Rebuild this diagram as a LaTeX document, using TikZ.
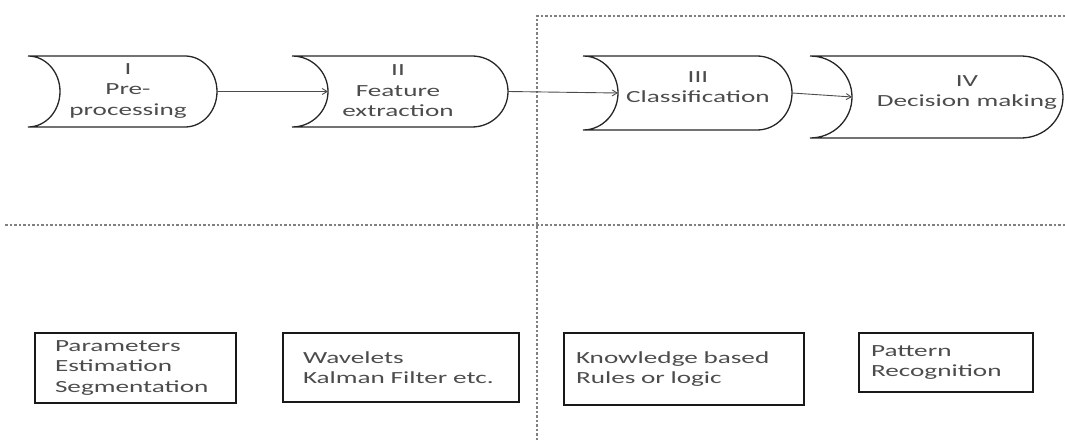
\documentclass[tikz,border=0pt]{standalone}
\usepackage{fontspec}
\newfontfamily\diagfont[FakeStretch=1.6]{Carlito}
\usetikzlibrary{arrows.meta,calc}

\begin{document}
\begin{tikzpicture}[x=1pt,y=1pt,
  font=\diagfont\fontsize{17}{20.5}\selectfont,
  stageline/.style={draw=black!85,line width=1.3pt},
  stagetext/.style={align=center,text=black!70,inner sep=0pt},
  box/.style={draw=black!90,line width=1.8pt,align=left,text=black!70,inner ysep=2pt},
  arr/.style={-{Straight Barb[length=5pt,width=6pt]},draw=black!70,line width=.9pt},
  sep/.style={draw=black!50,line width=1.2pt,dash pattern=on 2.5pt off 2pt}]
\useasboundingbox (0,0) rectangle (1065,440);

% Phase dividers: pre-processing and features left, decisions right.
\draw[sep] (5,215) -- (1065,215);
\draw[sep] (537,0) -- (537,424) -- (1065,424);

% Stages drawn as stored-data outlines (concave left, round right).
\foreach \nm/\xl/\xr/\yt/\yb/\dep/\tx/\ty/\txt in {
  s1/28/217/384/313/32/128/349/{I\\Pre-\\processing},
  s2/292/508/384/313/36/398/349/{II\\Feature\\extraction},
  s3/583/792/384/310/35/698/353/{III\\Classification},
  s4/810/1063/384/302/42/967/347.5/{IV\\Decision making}}{
  \pgfmathsetmacro{\ymid}{(\yt+\yb)/2}
  \pgfmathsetmacro{\yrad}{(\yt-\yb)/2}
  \pgfmathsetmacro{\xin}{\xl+\dep}
  \pgfmathsetmacro{\xcap}{\xr-\dep}
  \draw[stageline] (\xl,\yt) -- (\xcap,\yt)
    arc[start angle=90,end angle=-90,x radius=\dep,y radius=\yrad]
    -- (\xl,\yb)
    arc[start angle=-90,end angle=90,x radius=\dep,y radius=\yrad];
  \coordinate (\nm in) at (\xin,\ymid);
  \coordinate (\nm out) at (\xr,\ymid);
  \node[stagetext] (\nm) at (\tx,\ty) {\txt};
}
\draw[arr] (s1out) -- (s2in);
\draw[arr] (s2out) -- (s3in);
\draw[arr] (s3out) -- (s4in);

% Methods used in each stage.
\foreach \nm/\xl/\xr/\yt/\yb/\pad/\txt in {
  m1/35/236/107/37/20/{Parameters\\Estimation\\Segmentation},
  m2/283/519/107/38/20/{Wavelets\\Kalman Filter etc.},
  m3/564/804/107/35/12/{Knowledge based\\Rules or logic},
  m4/859/1033/107/48/12/{Pattern\\Recognition}}{
  \pgfmathsetmacro{\bw}{\xr-\xl}
  \pgfmathsetmacro{\tw}{\xr-\xl-2*\pad}
  \pgfmathsetmacro{\bh}{\yt-\yb}
  \pgfmathsetmacro{\bx}{(\xl+\xr)/2}
  \pgfmathsetmacro{\by}{(\yt+\yb)/2}
  \node[box,minimum width=\bw pt,minimum height=\bh pt,text width=\tw pt,
        inner xsep=\pad pt] (\nm) at (\bx,\by) {\txt};
}
\end{tikzpicture}
\end{document}
